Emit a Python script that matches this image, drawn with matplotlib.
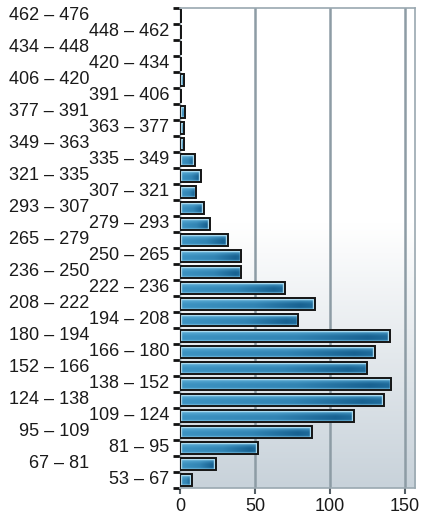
import numpy as np
import matplotlib
matplotlib.use("Agg")
import matplotlib.pyplot as plt
from matplotlib.colors import to_rgb
from matplotlib.transforms import blended_transform_factory

plt.rcParams['font.family'] = ['Liberation Sans', 'DejaVu Sans']

bins = ["53 – 67", "67 – 81", "81 – 95", "95 – 109", "109 – 124", "124 – 138",
        "138 – 152", "152 – 166", "166 – 180", "180 – 194", "194 – 208",
        "208 – 222", "222 – 236", "236 – 250", "250 – 265", "265 – 279",
        "279 – 293", "293 – 307", "307 – 321", "321 – 335", "335 – 349",
        "349 – 363", "363 – 377", "377 – 391", "391 – 406", "406 – 420",
        "420 – 434", "434 – 448", "448 – 462", "462 – 476"]
counts = [8, 24, 52, 88, 116, 136, 141, 125, 130, 140, 79, 90, 70, 41, 41,
          32, 20, 16, 11, 14, 10, 3, 3, 3.5, 1, 3, 1, 1, 0.5, 1]
xticks = [0, 50, 100, 150]

fig = plt.figure(figsize=(4.23, 5.16), dpi=100)
ax = fig.add_axes([180/423, 1-488/516, 235/423, 480/516])
ax.set_xlim(0, 156.7)
ax.set_ylim(-0.5, len(bins) - 0.5)

# background gradient
top = np.array(to_rgb('#ffffff'))
bot = np.array(to_rgb('#c8d2da'))
t = np.linspace(0, 1, 256)
f = np.clip((0.55 - t) / 0.55, 0, 1)
bg = (top[None, :] * (1 - f[:, None]) + bot[None, :] * f[:, None])[:, None, :]
ax.imshow(bg, extent=[0, 1, 0, 1], transform=ax.transAxes, origin='lower',
          aspect='auto', zorder=0, interpolation='bilinear')

# gridlines
for xv in xticks[1:]:
    ax.axvline(xv, color='#8d9ca5', lw=1.8, zorder=1)

# bars with gradient fill
h = 0.78
ring = np.array(to_rgb('#a9d9ee'))
lightc = np.array(to_rgb('#66b5dc'))
core = np.array(to_rgb('#3d93c2'))
dark = np.array(to_rgb('#0c5282'))
ny, nx = 40, 80
yy = np.linspace(0, 1, ny)[:, None]
xx = np.linspace(0, 1, nx)[None, :]
pv = np.interp(yy, [0, 0.1, 0.2, 0.45, 0.62, 0.75, 0.86, 1.0],
               [0.9, 0.6, 0.0, 0.0, 0.35, 0.7, 0.8, 0.9])
ph = np.interp(xx, [0, 0.55, 0.9, 1.0], [0.0, 0.22, 0.75, 0.6])
ph = ph * (1 - pv)

for i, v in enumerate(counts):
    rect = ax.barh(i, v, height=h, color='none', edgecolor='#151515',
                   linewidth=1.4, zorder=3)[0]
    if v <= 0:
        continue
    base = core[None, None, :] * (1 - pv[..., None]) + lightc[None, None, :] * pv[..., None]
    base = np.broadcast_to(base, (ny, nx, 3))
    img = base * (1 - ph[..., None]) + dark[None, None, :] * ph[..., None]
    im = ax.imshow(img, extent=[0, v, i - h/2, i + h/2], origin='lower',
                   aspect='auto', zorder=2, interpolation='bilinear')
    im.set_clip_path(rect)
    if v > 2.5:
        ix = 1.0
        iy = 0.09
        ax.barh(i, v - 2 * ix, left=ix, height=h - 2 * iy, color='none',
                edgecolor=ring, linewidth=1.0, zorder=2.5)

# y ticks at bin boundaries
ax.set_yticks(np.arange(-0.5, len(bins), 1.0))
ax.set_yticklabels([])
ax.tick_params(axis='y', length=5, width=2, color='#111111', direction='out')

# staggered category labels
trans = blended_transform_factory(ax.transAxes, ax.transData)
for i, lab in enumerate(bins):
    xpos = -11/235 if i % 2 == 0 else -91/235
    ax.text(xpos, i, lab, transform=trans, ha='right', va='center',
            fontsize=13, color='#1a1a1a')

ax.set_xticks(xticks)
ax.set_xticklabels([str(x) for x in xticks], fontsize=13, color='#1a1a1a')
ax.tick_params(axis='x', length=4, width=1.5, color='#555f66', pad=3)

for s in ['top', 'right', 'bottom']:
    ax.spines[s].set_color('#9aa8b0')
    ax.spines[s].set_linewidth(1.2)
ax.spines['left'].set_color('#9aa8b0')
ax.spines['left'].set_linewidth(1.0)

fig.savefig('out.png', dpi=100)
